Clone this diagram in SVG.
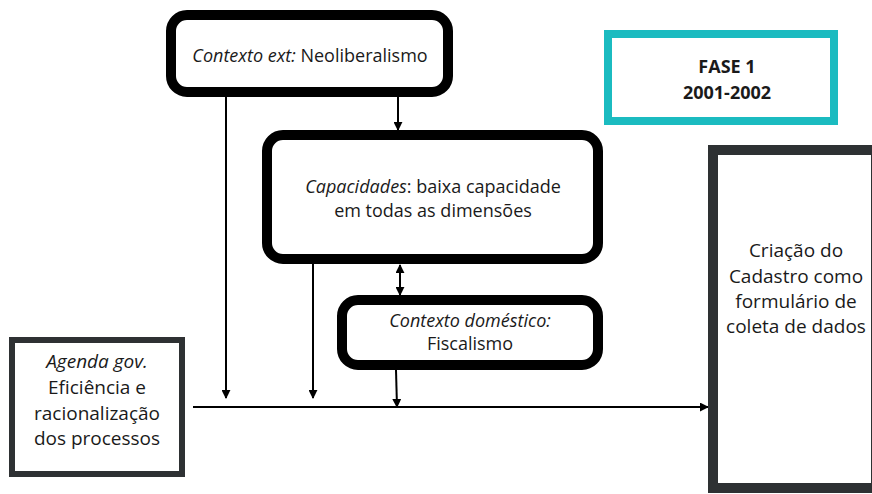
<svg xmlns="http://www.w3.org/2000/svg" width="872" height="494" viewBox="0 0 872 494">
<style>
text{font-family:"Open Sans","Noto Sans","Liberation Sans",sans-serif;font-size:18px;fill:#1a1a1a;text-anchor:middle}
.it{font-style:italic}
.b{font-weight:bold}
.lg{font-size:19px}
.rnd{fill:#fff;stroke:#000;stroke-width:10}
.sq{fill:#fff;stroke:#2e3133}
.ln{stroke:#000;stroke-width:2;fill:none}
</style>
<defs>
<marker id="ah" viewBox="0 0 10 10" refX="9" refY="5" markerWidth="4.5" markerHeight="4.5" orient="auto-start-reverse" markerUnits="strokeWidth">
<path d="M0,0 L10,5 L0,10 z" fill="#000"/>
</marker>
</defs>
<g id="connectors">
<line class="ln" x1="226" y1="97" x2="226" y2="398" marker-end="url(#ah)"/>
<line class="ln" x1="398" y1="97" x2="398" y2="130" marker-end="url(#ah)"/>
<line class="ln" x1="313" y1="264" x2="313" y2="398" marker-end="url(#ah)"/>
<line class="ln" x1="400" y1="265" x2="400" y2="295" marker-start="url(#ah)" marker-end="url(#ah)"/>
<line class="ln" x1="396" y1="370" x2="397" y2="407" marker-end="url(#ah)"/>
<line class="ln" x1="193" y1="407" x2="708" y2="407" marker-end="url(#ah)"/>
</g>
<g id="contexto-ext">
<rect class="rnd" x="171" y="15" width="277" height="77" rx="16"/>
<text x="310" y="62"><tspan class="it">Contexto ext:</tspan> Neoliberalismo</text>
</g>
<g id="fase">
<rect x="608" y="34" width="226" height="87" fill="#fff" stroke="#1bbbc0" stroke-width="8"/>
<text class="b" x="727" y="73">FASE 1</text>
<text class="b" x="727" y="99">2001-2002</text>
</g>
<g id="capacidades">
<rect class="rnd" x="267" y="135" width="331" height="124" rx="16"/>
<text x="433" y="193"><tspan class="it">Capacidades</tspan>: baixa capacidade</text>
<text x="433" y="217">em todas as dimensões</text>
</g>
<g id="contexto-domestico">
<rect class="rnd" x="342" y="300" width="256" height="65" rx="16" stroke-width="9"/>
<text class="it" x="470" y="327">Contexto doméstico:</text>
<text x="470" y="350">Fiscalismo</text>
</g>
<g id="agenda">
<rect class="sq" x="12" y="340" width="170" height="134" stroke-width="6"/>
<text class="it lg" x="97" y="368">Agenda gov.</text>
<text class="lg" x="97" y="394">Eficiência e</text>
<text class="lg" x="97" y="420">racionalização</text>
<text class="lg" x="97" y="445">dos processos</text>
</g>
<g id="cadastro">
<rect class="sq" x="713" y="150" width="163" height="338" stroke-width="10"/>
<text class="lg" x="796" y="257">Criação do</text>
<text class="lg" x="796" y="283">Cadastro como</text>
<text class="lg" x="796" y="308">formulário de</text>
<text class="lg" x="796" y="333">coleta de dados</text>
</g>
</svg>
